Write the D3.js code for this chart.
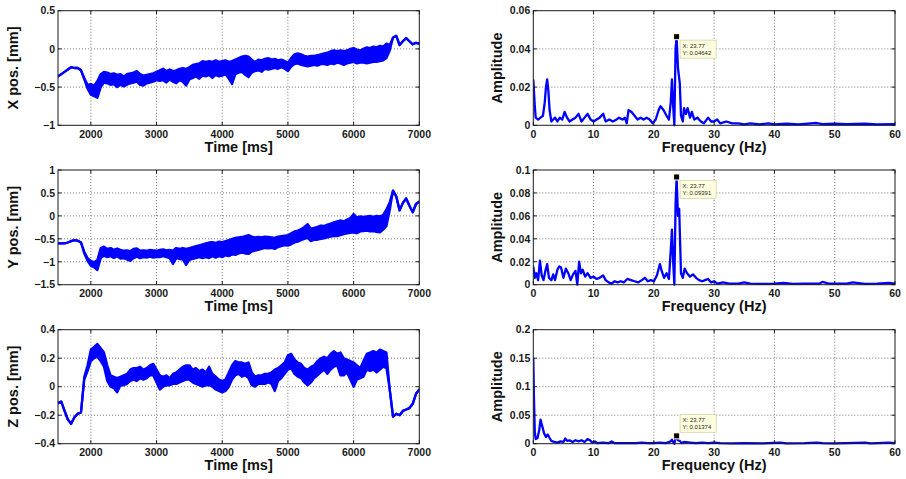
<!DOCTYPE html>
<html>
<head>
<meta charset="utf-8">
<script src="https://cdn.jsdelivr.net/npm/d3@7"></script>
<style>
  body { margin: 0; background: #fff; }
  svg { display: block; }
  text { font-family: "Liberation Sans", Arial, Helvetica, sans-serif; }
</style>
</head>
<body>
<svg id="chart" width="906" height="479"></svg>
<script>
// ---- Sample grid of the position records (ms) ----
const timeMs = d3.range(1500, 7001, 50);

// Position records: upper / lower envelope of the vibrating trace (mm)
const xPosHi = [
  -0.36,-0.33,-0.30,-0.27,-0.24,-0.25,-0.25,-0.28,-0.38,-0.47,
  -0.46,-0.48,-0.42,-0.33,-0.30,-0.31,-0.33,-0.32,-0.34,-0.33,
  -0.36,-0.33,-0.32,-0.31,-0.29,-0.33,-0.35,-0.34,-0.33,-0.32,
  -0.30,-0.28,-0.26,-0.29,-0.27,-0.29,-0.28,-0.26,-0.25,-0.26,
  -0.24,-0.21,-0.20,-0.19,-0.16,-0.17,-0.16,-0.17,-0.15,-0.17,
  -0.16,-0.15,-0.17,-0.16,-0.14,-0.12,-0.10,-0.09,-0.10,-0.14,
  -0.17,-0.14,-0.15,-0.13,-0.12,-0.14,-0.13,-0.15,-0.14,-0.16,
  -0.18,-0.12,-0.07,-0.06,-0.07,-0.09,-0.10,-0.09,-0.09,-0.08,
  -0.07,-0.06,-0.05,-0.03,-0.02,-0.03,-0.02,-0.03,-0.02,0.00,
  0.01,-0.01,-0.02,0.00,0.02,0.01,0.03,0.02,0.04,0.03,
  0.07,0.05,0.15,0.17,0.05,0.10,0.14,0.10,0.06,0.08,
  0.07
];
const xPosLo = [
  -0.36,-0.33,-0.30,-0.27,-0.24,-0.25,-0.25,-0.28,-0.40,-0.52,
  -0.60,-0.62,-0.64,-0.50,-0.44,-0.45,-0.47,-0.46,-0.50,-0.47,
  -0.49,-0.47,-0.45,-0.44,-0.43,-0.47,-0.48,-0.45,-0.44,-0.43,
  -0.41,-0.42,-0.41,-0.44,-0.40,-0.43,-0.45,-0.41,-0.43,-0.48,
  -0.40,-0.38,-0.36,-0.39,-0.35,-0.36,-0.34,-0.38,-0.34,-0.36,
  -0.35,-0.33,-0.39,-0.46,-0.33,-0.31,-0.30,-0.34,-0.37,-0.31,
  -0.29,-0.28,-0.30,-0.26,-0.27,-0.26,-0.25,-0.26,-0.24,-0.26,
  -0.29,-0.23,-0.20,-0.19,-0.21,-0.22,-0.23,-0.22,-0.21,-0.22,
  -0.20,-0.20,-0.21,-0.19,-0.20,-0.18,-0.19,-0.21,-0.19,-0.18,
  -0.17,-0.19,-0.18,-0.18,-0.19,-0.18,-0.17,-0.17,-0.16,-0.15,
  -0.12,-0.02,0.15,0.17,0.05,0.10,0.14,0.10,0.06,0.08,
  0.07
];
const yPosHi = [
  -0.60,-0.60,-0.60,-0.58,-0.55,-0.53,-0.54,-0.58,-0.78,-0.92,
  -0.98,-1.01,-0.96,-0.70,-0.67,-0.72,-0.70,-0.74,-0.71,-0.74,
  -0.76,-0.75,-0.77,-0.72,-0.71,-0.76,-0.75,-0.76,-0.74,-0.75,
  -0.76,-0.74,-0.73,-0.75,-0.74,-0.76,-0.70,-0.72,-0.70,-0.72,
  -0.70,-0.68,-0.66,-0.64,-0.62,-0.60,-0.58,-0.57,-0.59,-0.56,
  -0.57,-0.55,-0.53,-0.50,-0.48,-0.47,-0.46,-0.44,-0.42,-0.45,
  -0.47,-0.46,-0.47,-0.45,-0.46,-0.47,-0.48,-0.45,-0.44,-0.43,
  -0.42,-0.38,-0.34,-0.32,-0.29,-0.24,-0.18,-0.28,-0.26,-0.24,
  -0.21,-0.22,-0.19,-0.17,-0.14,-0.12,-0.10,-0.12,-0.08,-0.05,
  0.04,-0.03,-0.01,-0.02,-0.01,0.00,-0.02,0.00,-0.01,0.02,
  0.14,0.30,0.55,0.42,0.12,0.28,0.38,0.22,0.08,0.26,
  0.31
];
const yPosLo = [
  -0.60,-0.60,-0.60,-0.58,-0.55,-0.53,-0.54,-0.58,-0.82,-0.98,
  -1.09,-1.12,-1.18,-0.92,-0.87,-0.90,-0.88,-0.92,-0.88,-0.93,
  -0.92,-0.95,-0.98,-0.92,-0.89,-0.92,-0.90,-0.91,-0.89,-0.91,
  -0.90,-0.90,-0.88,-0.90,-0.92,-1.05,-0.92,-0.94,-0.95,-1.07,
  -0.96,-0.94,-0.92,-0.90,-0.92,-0.90,-0.92,-0.88,-0.91,-0.88,
  -0.90,-0.86,-0.88,-0.84,-0.85,-0.82,-0.80,-0.82,-0.83,-0.78,
  -0.76,-0.74,-0.72,-0.70,-0.71,-0.70,-0.72,-0.68,-0.66,-0.64,
  -0.65,-0.62,-0.58,-0.56,-0.53,-0.50,-0.48,-0.55,-0.52,-0.52,
  -0.50,-0.49,-0.47,-0.45,-0.44,-0.44,-0.42,-0.40,-0.38,-0.37,
  -0.36,-0.38,-0.34,-0.33,-0.32,-0.34,-0.33,-0.35,-0.36,-0.30,
  -0.22,0.12,0.55,0.42,0.12,0.28,0.38,0.22,0.08,0.26,
  0.31
];
const zPosHi = [
  -0.115,-0.105,-0.17,-0.23,-0.26,-0.215,-0.19,-0.18,0.07,0.15,
  0.26,0.28,0.30,0.27,0.24,0.15,0.08,0.07,0.06,0.07,
  0.08,0.09,0.12,0.13,0.13,0.14,0.12,0.13,0.15,0.16,
  0.12,0.08,0.07,0.08,0.06,0.09,0.10,0.12,0.14,0.15,
  0.15,0.12,0.13,0.11,0.12,0.10,0.14,0.09,0.07,0.05,
  0.04,0.05,0.10,0.15,0.18,0.17,0.17,0.16,0.17,0.10,
  0.07,0.08,0.08,0.09,0.09,0.10,0.12,0.13,0.15,0.17,
  0.22,0.23,0.19,0.17,0.16,0.13,0.12,0.14,0.15,0.18,
  0.20,0.21,0.20,0.23,0.25,0.23,0.24,0.20,0.19,0.18,
  0.17,0.15,0.13,0.18,0.23,0.24,0.25,0.24,0.26,0.25,
  0.24,-0.02,-0.21,-0.19,-0.20,-0.17,-0.16,-0.15,-0.12,-0.05,
  -0.02
];
const zPosLo = [
  -0.115,-0.105,-0.17,-0.23,-0.26,-0.215,-0.19,-0.18,0.05,0.11,
  0.18,0.20,0.21,0.18,0.14,0.04,0.00,-0.01,-0.04,0.01,
  0.01,0.02,0.04,0.05,0.04,0.06,0.05,0.06,0.08,0.08,
  0.03,-0.02,0.00,0.01,0.01,0.02,0.02,0.03,0.04,0.05,
  0.05,0.03,0.02,0.01,0.00,0.01,0.01,0.00,-0.02,-0.03,
  -0.04,-0.03,0.00,0.05,0.08,0.09,0.07,0.08,0.06,0.01,
  0.00,0.02,0.02,0.02,0.03,0.02,-0.03,0.04,0.06,0.09,
  0.12,0.13,0.09,0.07,0.06,0.03,0.01,0.03,0.06,0.08,
  0.10,0.12,0.09,0.12,0.14,0.15,0.08,0.08,0.10,0.05,
  0.00,0.05,0.06,0.07,0.12,0.11,0.12,0.10,0.12,0.14,
  0.13,-0.02,-0.21,-0.19,-0.20,-0.17,-0.16,-0.15,-0.12,-0.05,
  -0.02
];

// ---- Amplitude spectra (Hz, amplitude) ----
const fftXFreq = [0,0.25,0.4,0.8,1.2,1.6,1.9,2.1,2.3,2.5,2.7,3.0,3.3,3.6,4.0,4.4,4.8,5.2,5.6,6.0,6.5,7.0,7.5,8.0,8.5,9.0,9.5,10.0,10.5,11.0,11.6,12.0,12.6,13.2,13.8,14.2,14.8,15.2,15.5,15.8,16.3,16.8,17.3,17.8,18.3,18.8,19.3,19.8,20.3,20.8,21.1,21.6,22.1,22.5,22.8,23.0,23.2,23.4,23.6,23.77,24.0,24.3,24.5,24.8,25.0,25.3,25.6,26.0,26.3,26.7,27.2,27.8,28.3,29.0,29.5,30.0,30.5,31.0,32.0,33.0,34.0,35.0,36.0,37.5,39.0,40.0,42.0,44.0,47.0,48.0,50.0,52.0,55.0,57.0,60.0];
const fftXAmp  = [0.024,0.010,0.004,0.003,0.004,0.005,0.012,0.020,0.024,0.018,0.008,0.002,0.003,0.004,0.002,0.004,0.003,0.007,0.004,0.002,0.003,0.004,0.006,0.002,0.004,0.006,0.003,0.002,0.003,0.004,0.006,0.002,0.003,0.002,0.003,0.004,0.003,0.004,0.001,0.008,0.007,0.005,0.003,0.004,0.003,0.004,0.003,0.001,0.003,0.008,0.010,0.008,0.005,0.003,0.012,0.024,0.010,0.000,0.040,0.04642,0.030,0.022,0.005,0.002,0.009,0.006,0.009,0.004,0.007,0.003,0.004,0.002,0.001,0.004,0.002,0.002,0.003,0.001,0.002,0.001,0.001,0.0005,0.001,0.0005,0.001,0.0005,0.0008,0.0005,0.0012,0.0006,0.0008,0.0006,0.0008,0.0005,0.0006];

const fftYFreq = [0,0.25,0.5,0.8,1.1,1.4,1.7,2.0,2.3,2.6,3.0,3.3,3.6,4.0,4.3,4.6,5.0,5.4,5.8,6.2,6.6,7.0,7.3,7.6,7.9,8.2,8.6,9.0,9.5,10.0,10.5,11.0,11.6,12.0,12.5,13.0,13.5,14.0,14.5,15.0,15.6,16.2,16.8,17.4,18.0,18.5,19.0,19.5,20.0,20.5,21.0,21.3,21.7,22.1,22.5,22.8,23.0,23.2,23.4,23.6,23.77,24.0,24.2,24.5,24.8,25.1,25.5,26.0,26.5,27.0,27.5,28.0,28.5,29.0,29.5,30.0,30.5,31.5,32.5,34.0,35.0,36.0,38.0,40.0,41.5,43.0,45.0,47.5,48.0,49.0,52.0,53.0,55.0,57.0,59.0,60.0];
const fftYAmp  = [0.016,0.006,0.010,0.004,0.021,0.008,0.004,0.012,0.018,0.006,0.004,0.009,0.004,0.013,0.016,0.015,0.006,0.014,0.010,0.004,0.009,0.012,0.000,0.020,0.010,0.013,0.007,0.010,0.006,0.007,0.005,0.006,0.008,0.004,0.002,0.001,0.003,0.002,0.003,0.002,0.005,0.004,0.003,0.002,0.004,0.006,0.003,0.004,0.003,0.008,0.018,0.012,0.006,0.010,0.005,0.030,0.048,0.020,0.000,0.070,0.09391,0.060,0.066,0.010,0.006,0.014,0.010,0.007,0.009,0.006,0.004,0.003,0.004,0.005,0.002,0.003,0.001,0.002,0.001,0.001,0.002,0.001,0.0008,0.001,0.0015,0.0008,0.001,0.001,0.0025,0.001,0.001,0.002,0.0008,0.001,0.0015,0.0008];

const fftZFreq = [0,0.1,0.25,0.4,0.7,1.0,1.2,1.5,1.8,2.1,2.4,2.7,3.0,3.5,4.0,4.5,5.0,5.3,5.6,6.0,6.5,7.0,7.5,8.0,8.5,9.0,9.4,9.8,10.2,10.6,11.5,12.5,13.0,13.5,15.0,17.0,18.0,19.0,20.0,21.0,22.0,22.8,23.0,23.2,23.4,23.6,23.77,24.0,24.3,24.6,25.0,26.0,27.0,28.0,29.0,30.0,31.0,33.0,35.0,38.0,41.0,42.0,45.0,47.0,48.0,50.0,55.0,56.0,59.0,60.0];
const fftZAmp  = [0.15,0.085,0.02,0.008,0.010,0.025,0.042,0.030,0.018,0.012,0.016,0.010,0.005,0.003,0.002,0.004,0.003,0.009,0.005,0.006,0.003,0.006,0.004,0.006,0.003,0.008,0.006,0.002,0.004,0.001,0.002,0.001,0.004,0.001,0.001,0.001,0.002,0.001,0.001,0.002,0.001,0.004,0.007,0.003,0.000,0.010,0.01374,0.006,0.005,0.001,0.003,0.002,0.001,0.002,0.001,0.002,0.001,0.0005,0.001,0.0005,0.002,0.0005,0.001,0.002,0.001,0.0005,0.002,0.0005,0.002,0.001];

// Data-tip readouts at the dominant frequency
const peakFreq = 23.77;
const peakAmps = [0.04642, 0.09391, 0.01374];

// ---- Tick values ----
const timeTicks = [2000, 3000, 4000, 5000, 6000, 7000];
const freqTicks = [0, 10, 20, 30, 40, 50, 60];
const xPosTicks = [-1, -0.5, 0, 0.5];
const yPosTicks = [-1.5, -1, -0.5, 0, 0.5, 1];
const zPosTicks = [-0.4, -0.2, 0, 0.2, 0.4];
const ampTicksX = [0, 0.02, 0.04, 0.06];
const ampTicksY = [0, 0.02, 0.04, 0.06, 0.08, 0.1];
const ampTicksZ = [0, 0.05, 0.1, 0.15, 0.2];

const svg = d3.select("#chart");
const BLUE = "#0000ff";

const rows = [
  { top: 10.7, bottom: 125.3 },
  { top: 170, bottom: 284.7 },
  { top: 329.7, bottom: 443.7 }
];
const leftCol = { left: 58, right: 419.3 };
const rightCol = { left: 533.3, right: 895 };

const fmt = v => (v < 0 ? "\u2212" : "") + String(Math.abs(v));

// dotted grid lines at the inner ticks
function grid(g, x, y, xTicks, yTicks) {
  const [x0, x1] = x.range();
  const [y0, y1] = y.range();
  const gg = g.append("g").attr("stroke", "#222").attr("stroke-width", 0.8)
    .attr("stroke-dasharray", "1,2").attr("opacity", 0.75);
  xTicks.filter(t => x(t) > x0 + 0.5 && x(t) < x1 - 0.5).forEach(t => {
    gg.append("line").attr("x1", x(t)).attr("x2", x(t)).attr("y1", y1).attr("y2", y0);
  });
  yTicks.filter(t => y(t) < y0 - 0.5 && y(t) > y1 + 0.5).forEach(t => {
    gg.append("line").attr("x1", x0).attr("x2", x1).attr("y1", y(t)).attr("y2", y(t));
  });
}

// box, inward ticks, tick labels and axis titles
function axesBox(g, x, y, xTicks, yTicks, xLabel, yLabel, yLabelX) {
  const [x0, x1] = x.range();
  const [y0, y1] = y.range();
  const ax = g.append("g");
  ax.append("rect").attr("x", x0).attr("y", y1).attr("width", x1 - x0).attr("height", y0 - y1)
    .attr("fill", "none").attr("stroke", "#1a1a1a").attr("stroke-width", 1);
  const tl = 3.5;
  xTicks.forEach(t => {
    ax.append("line").attr("x1", x(t)).attr("x2", x(t)).attr("y1", y0).attr("y2", y0 - tl).attr("stroke", "#1a1a1a");
    ax.append("line").attr("x1", x(t)).attr("x2", x(t)).attr("y1", y1).attr("y2", y1 + tl).attr("stroke", "#1a1a1a");
    ax.append("text").attr("x", x(t)).attr("y", y0 + 12.2).attr("text-anchor", "middle")
      .attr("font-size", "10.5px").attr("font-weight", "bold").attr("fill", "#1a1a1a").text(fmt(t));
  });
  yTicks.forEach(t => {
    ax.append("line").attr("x1", x0).attr("x2", x0 + tl).attr("y1", y(t)).attr("y2", y(t)).attr("stroke", "#1a1a1a");
    ax.append("line").attr("x1", x1).attr("x2", x1 - tl).attr("y1", y(t)).attr("y2", y(t)).attr("stroke", "#1a1a1a");
    ax.append("text").attr("x", x0 - 3).attr("y", y(t)).attr("dy", "0.36em").attr("text-anchor", "end")
      .attr("font-size", "10.5px").attr("font-weight", "bold").attr("fill", "#1a1a1a").text(fmt(t));
  });
  ax.append("text").attr("x", (x0 + x1) / 2).attr("y", y0 + 26.3).attr("text-anchor", "middle")
    .attr("font-size", "14.5px").attr("font-weight", "bold").attr("fill", "#111").text(xLabel);
  ax.append("text").attr("transform", `translate(${yLabelX},${(y0 + y1) / 2}) rotate(-90)`)
    .attr("text-anchor", "middle").attr("font-size", "14.5px").attr("font-weight", "bold")
    .attr("fill", "#111").text(yLabel);
}

let clipId = 0;
function clipFor(g, x, y) {
  const id = "clip" + (clipId++);
  const [x0, x1] = x.range();
  const [y0, y1] = y.range();
  g.append("clipPath").attr("id", id).append("rect")
    .attr("x", x0).attr("y", y1 - 2).attr("width", x1 - x0).attr("height", y0 - y1 + 4);
  return "url(#" + id + ")";
}

// ---- Time-domain panels ----
const timePanels = [
  { hi: xPosHi, lo: xPosLo, domain: [-1, 0.5], ticks: xPosTicks, label: "X pos. [mm]" },
  { hi: yPosHi, lo: yPosLo, domain: [-1.5, 1], ticks: yPosTicks, label: "Y pos. [mm]" },
  { hi: zPosHi, lo: zPosLo, domain: [-0.4, 0.4], ticks: zPosTicks, label: "Z pos. [mm]" }
];

timePanels.forEach((p, i) => {
  const g = svg.append("g");
  const x = d3.scaleLinear().domain([1500, 7000]).range([leftCol.left, leftCol.right]);
  const y = d3.scaleLinear().domain(p.domain).range([rows[i].bottom, rows[i].top]);
  grid(g, x, y, timeTicks, p.ticks);
  const clip = clipFor(g, x, y);
  const series = timeMs.map((t, k) => ({ t, hi: p.hi[k], lo: p.lo[k] }));
  const plot = g.append("g").attr("clip-path", clip);
  plot.append("path").datum(series)
    .attr("d", d3.area().x(d => x(d.t)).y0(d => y(d.lo)).y1(d => y(d.hi)))
    .attr("fill", BLUE);
  [d => d.hi, d => d.lo].forEach(acc => {
    plot.append("path").datum(series)
      .attr("d", d3.line().x(d => x(d.t)).y(d => y(acc(d))))
      .attr("fill", "none").attr("stroke", BLUE).attr("stroke-width", 2.3)
      .attr("stroke-linejoin", "round").attr("stroke-linecap", "round");
  });
  axesBox(g, x, y, timeTicks, p.ticks, "Time [ms]", p.label, 18);
});

// ---- Spectrum panels ----
const specPanels = [
  { f: fftXFreq, a: fftXAmp, domain: [0, 0.06], ticks: ampTicksX, peak: peakAmps[0], tipAbove: false },
  { f: fftYFreq, a: fftYAmp, domain: [0, 0.1], ticks: ampTicksY, peak: peakAmps[1], tipAbove: false },
  { f: fftZFreq, a: fftZAmp, domain: [0, 0.2], ticks: ampTicksZ, peak: peakAmps[2], tipAbove: true }
];

specPanels.forEach((p, i) => {
  const g = svg.append("g");
  const x = d3.scaleLinear().domain([0, 60]).range([rightCol.left, rightCol.right]);
  const y = d3.scaleLinear().domain(p.domain).range([rows[i].bottom, rows[i].top]);
  grid(g, x, y, freqTicks, p.ticks);
  const clip = clipFor(g, x, y);
  const pts = p.f.map((f, k) => [f, p.a[k]]);
  g.append("g").attr("clip-path", clip).append("path").datum(pts)
    .attr("d", d3.line().x(d => x(d[0])).y(d => y(d[1])))
    .attr("fill", "none").attr("stroke", BLUE).attr("stroke-width", 2.3)
    .attr("stroke-linejoin", "round");
  axesBox(g, x, y, freqTicks, p.ticks, "Frequency (Hz)", "Amplitude", 502);

  // data tip at the dominant peak
  const mx = x(peakFreq), my = y(p.peak);
  const bw = 36, bh = 18;
  const bx = mx + 3.5, by = p.tipAbove ? my - 3.5 - bh : my + 3.5;
  const tip = g.append("g");
  tip.append("rect").attr("x", mx - 3.5).attr("y", my - 3.5).attr("width", 7).attr("height", 7)
    .attr("fill", "#fffbd0");
  tip.append("rect").attr("x", bx).attr("y", by).attr("width", bw).attr("height", bh)
    .attr("fill", "#ffffe0").attr("stroke", "#d6d3a8").attr("stroke-width", 0.8);
  tip.append("rect").attr("x", mx - 2.5).attr("y", my - 2.5).attr("width", 5).attr("height", 5)
    .attr("fill", "#000");
  tip.append("text").attr("x", bx + 2.5).attr("y", by + 7.5).attr("font-size", "6px")
    .attr("fill", "#222").text("X: " + peakFreq);
  tip.append("text").attr("x", bx + 2.5).attr("y", by + 14.5).attr("font-size", "6px")
    .attr("fill", "#222").text("Y: " + p.peak);
});
</script>
</body>
</html>
